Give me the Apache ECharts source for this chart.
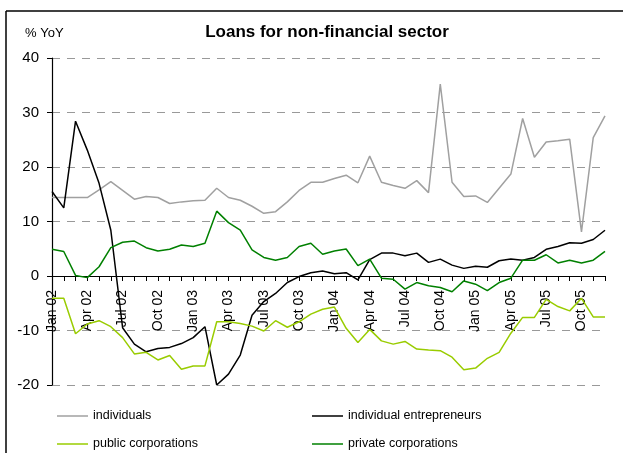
<!DOCTYPE html>
<html>
<head>
<meta charset="utf-8">
<script src="https://cdn.jsdelivr.net/npm/echarts@6/dist/echarts.min.js"></script>
<style>
  html, body { margin: 0; padding: 0; background: #fff; }
  #chart { width: 623px; height: 453px; }
</style>
</head>
<body>
<div id="chart"></div>
<script>
// Monthly categories, Jan 2002 – Dec 2005
var months = [
  'Jan 02','Feb 02','Mar 02','Apr 02','May 02','Jun 02','Jul 02','Aug 02','Sep 02','Oct 02','Nov 02','Dec 02',
  'Jan 03','Feb 03','Mar 03','Apr 03','May 03','Jun 03','Jul 03','Aug 03','Sep 03','Oct 03','Nov 03','Dec 03',
  'Jan 04','Feb 04','Mar 04','Apr 04','May 04','Jun 04','Jul 04','Aug 04','Sep 04','Oct 04','Nov 04','Dec 04',
  'Jan 05','Feb 05','Mar 05','Apr 05','May 05','Jun 05','Jul 05','Aug 05','Sep 05','Oct 05','Nov 05','Dec 05'
];

// Loan growth, % year on year
var individuals = [
  14.4, 14.4, 14.4, 14.4, 15.8, 17.3, 15.7, 14.1, 14.6, 14.4, 13.3, 13.6,
  13.8, 13.9, 16.1, 14.4, 13.9, 12.8, 11.5, 11.8, 13.6, 15.7, 17.2, 17.2,
  17.9, 18.5, 17.1, 22.0, 17.2, 16.6, 16.1, 17.5, 15.3, 35.2, 17.2, 14.6,
  14.7, 13.5, 16.1, 18.7, 28.9, 21.8, 24.6, 24.8, 25.1, 8.1, 25.4, 29.4
];
var entrepreneurs = [
  15.5, 12.5, 28.4, 23.1, 17.0, 8.4, -9.5, -12.5, -13.9, -13.3, -13.1, -12.4,
  -11.3, -9.3, -20.0, -18.0, -14.5, -7.2, -4.7, -3.2, -1.2, -0.1, 0.6, 0.9,
  0.4, 0.6, -0.7, 3.0, 4.2, 4.2, 3.7, 4.2, 2.5, 3.1, 2.0, 1.4,
  1.8, 1.6, 2.8, 3.1, 2.9, 3.4, 4.9, 5.4, 6.1, 6.0, 6.7, 8.4
];
var publicCorps = [
  -4.1, -4.1, -10.6, -8.8, -8.2, -9.3, -11.3, -14.3, -14.0, -15.4, -14.6, -17.1,
  -16.5, -16.5, -8.4, -8.4, -8.7, -9.2, -10.1, -8.2, -9.4, -8.4, -7.0, -6.1,
  -5.7, -9.6, -12.2, -9.8, -11.9, -12.5, -12.0, -13.4, -13.6, -13.7, -14.9, -17.2,
  -16.9, -15.1, -14.0, -10.5, -7.6, -7.6, -4.3, -5.6, -6.4, -4.1, -7.5, -7.5
];
var privateCorps = [
  4.9, 4.5, 0.1, -0.3, 1.7, 5.2, 6.2, 6.4, 5.2, 4.6, 4.9, 5.7,
  5.4, 6.0, 11.9, 9.8, 8.4, 4.8, 3.4, 2.9, 3.4, 5.4, 6.0, 4.0,
  4.6, 4.95, 1.9, 3.1, -0.4, -0.6, -2.4, -1.2, -1.8, -2.1, -2.9, -0.9,
  -1.5, -2.7, -1.2, -0.4, 2.9, 2.9, 3.9, 2.4, 2.9, 2.4, 2.9, 4.5
];
var yMin = -20, yMax = 40, yStep = 10;

var FONT = '"Liberation Sans", Arial, sans-serif';
var COLORS = {
  individuals: '#a0a0a0',
  entrepreneurs: '#000000',
  publicCorps: '#99cc00',
  privateCorps: '#008000'
};

// plot box in pixels
var GRID = { left: 52, right: 18, top: 58, bottom: 68 };
var plotHeight = 453 - GRID.top - GRID.bottom;
// the category axis sits on the zero line
var zeroOffset = -plotHeight * (0 - yMin) / (yMax - yMin);

function lineSeries(name, data, color) {
  return {
    name: name,
    type: 'line',
    data: data,
    symbol: 'none',
    smooth: false,
    lineStyle: { color: color, width: 1.5 },
    itemStyle: { color: color },
    z: 3
  };
}

function legendColumn(left, names) {
  return {
    orient: 'vertical',
    left: left,
    top: 408,
    padding: 0,
    icon: 'rect',
    itemWidth: 31,
    itemHeight: 1.5,
    itemGap: 12,
    selectedMode: false,
    textStyle: { fontFamily: FONT, fontSize: 12.5, color: '#000', lineHeight: 16 },
    data: names
  };
}

var chart = echarts.init(document.getElementById('chart'), null, { renderer: 'canvas' });
chart.setOption({
  animation: false,
  backgroundColor: '#fff',
  title: {
    text: 'Loans for non-financial sector',
    left: 327,
    textAlign: 'center',
    top: 24,
    padding: 0,
    textStyle: { fontFamily: FONT, fontSize: 17, fontWeight: 'bold', color: '#000' }
  },
  graphic: [
    { type: 'line', shape: { x1: 6, y1: 11, x2: 623, y2: 11 }, style: { stroke: '#000', lineWidth: 1.5 } },
    { type: 'line', shape: { x1: 6, y1: 11, x2: 6, y2: 453 }, style: { stroke: '#000', lineWidth: 1.5 } },
    { type: 'text', left: 25, top: 27, style: { text: '% YoY', font: '13px ' + FONT, fill: '#000' } }
  ],
  legend: [
    legendColumn(57, ['individuals', 'public corporations']),
    legendColumn(312, ['individual entrepreneurs', 'private corporations'])
  ],
  grid: { left: GRID.left, right: GRID.right, top: GRID.top, bottom: GRID.bottom },
  xAxis: {
    type: 'category',
    data: months,
    boundaryGap: false,
    position: 'bottom',
    offset: zeroOffset,
    axisLine: { onZero: false, lineStyle: { color: '#000', width: 1.2 } },
    axisTick: { show: true, interval: 0, length: 5, lineStyle: { color: '#000', width: 1 } },
    axisLabel: {
      interval: 2,
      rotate: 90,
      margin: 14,
      fontFamily: FONT,
      fontSize: 14,
      color: '#000'
    },
    splitLine: { show: false }
  },
  yAxis: {
    type: 'value',
    min: yMin,
    max: yMax,
    interval: yStep,
    axisLine: { show: true, lineStyle: { color: '#000', width: 1.2 } },
    axisTick: { show: true, length: 5, lineStyle: { color: '#000' } },
    axisLabel: { margin: 13, fontFamily: FONT, fontSize: 15, color: '#000' },
    splitLine: { show: true, lineStyle: { color: '#999', type: [8, 7], width: 1 } }
  },
  series: [
    lineSeries('individuals', individuals, COLORS.individuals),
    lineSeries('individual entrepreneurs', entrepreneurs, COLORS.entrepreneurs),
    lineSeries('public corporations', publicCorps, COLORS.publicCorps),
    lineSeries('private corporations', privateCorps, COLORS.privateCorps)
  ]
});
</script>
</body>
</html>
